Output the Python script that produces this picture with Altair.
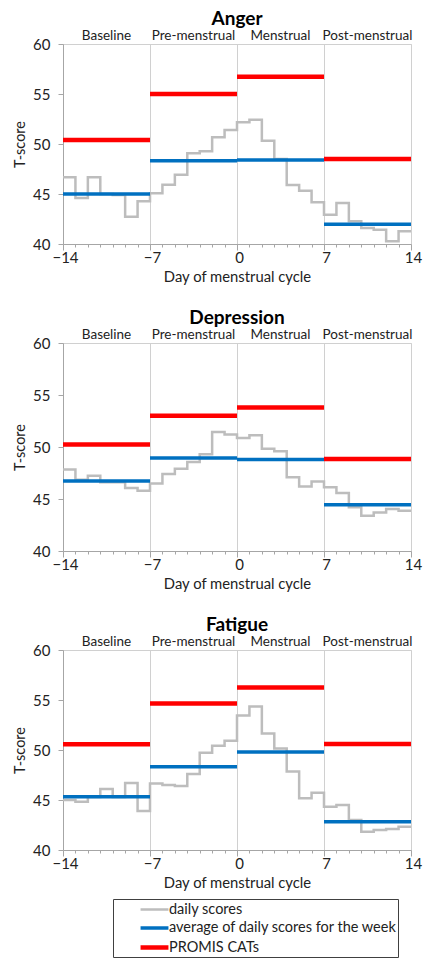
import altair as alt
import pandas as pd

days = list(range(-14, 14))
phases = ["Baseline", "Pre-menstrual", "Menstrual", "Post-menstrual"]
phase_start = [-14, -7, 0, 7]
phase_end = [-7, 0, 7, 14]

anger_daily = [46.67, 44.6, 46.67, 45.0, 44.9, 42.73, 44.27,
               45.07, 45.93, 46.93, 49.07, 49.27, 50.67, 51.4,
               52.17, 52.43, 50.33, 48.5, 45.9, 45.33, 44.17,
               42.93, 44.1, 42.27, 41.6, 41.43, 40.27, 41.27]
anger_weekly = [45.0, 48.33, 48.4, 41.97]
anger_promis = [50.4, 55.0, 56.73, 48.5]

depression_daily = [47.84, 46.84, 47.23, 46.6, 46.6, 46.06, 45.8,
                    46.5, 47.4, 47.9, 48.55, 49.3, 51.45, 51.2,
                    50.87, 51.13, 49.84, 49.58, 47.1, 46.2, 46.68,
                    46.13, 45.58, 44.2, 43.39, 43.7, 44.03, 43.87]
depression_weekly = [46.74, 48.94, 48.8, 44.45]
depression_promis = [50.23, 53.0, 53.8, 48.84]

fatigue_daily = [45.0, 44.83, 45.3, 46.1, 45.3, 46.7, 43.9,
                 46.65, 46.5, 46.4, 47.6, 49.73, 50.43, 50.93,
                 53.45, 54.35, 51.65, 50.15, 47.85, 45.17, 45.73,
                 44.33, 44.5, 43.0, 41.83, 42.0, 42.1, 42.33]
fatigue_weekly = [45.33, 48.33, 49.8, 42.83]
fatigue_promis = [50.57, 54.65, 56.25, 50.6]

series_names = ["daily scores", "average of daily scores for the week", "PROMIS CATs"]
series_colors = ["#bdbdbd", "#0070c0", "#ff0000"]
series_widths = [2.5, 4.5, 4.5]

FONT = "Lato"
AXIS_COLOR = "#a6a6a6"

x_scale = alt.Scale(domain=[-14, 14], nice=False, zero=False)
y_scale = alt.Scale(domain=[40, 60], nice=False, zero=False)

x_axis = alt.Axis(
    values=list(range(-14, 15)),
    labelExpr="datum.value % 7 === 0 ? datum.label : ''",
    tickSize={"condition": {"test": "datum.value % 7 === 0", "value": 6}, "value": 3},
    grid=True,
    gridOpacity={"condition": {"test": "datum.value % 7 === 0", "value": 1}, "value": 0},
    gridColor="#d0d0d0",
    domainColor=AXIS_COLOR,
    tickColor=AXIS_COLOR,
    labelFontSize=15,
    labelColor="#222222",
    labelOffset=2,
    labelPadding=0,
    labelFlush=False,
    labelOverlap=False,
    title="Day of menstrual cycle",
    titleFontSize=14.8,
    titleFontWeight="normal",
    titleColor="#222222",
    titlePadding=4,
)

y_axis = alt.Axis(
    values=[40, 45, 50, 55, 60],
    title="T-score",
    titleFontSize=14.5,
    titleFontWeight="normal",
    titleColor="#222222",
    titlePadding=5,
    labelFontSize=15,
    labelColor="#222222",
    labelPadding=8,
    tickSize=5,
    domainColor=AXIS_COLOR,
    tickColor=AXIS_COLOR,
    grid=False,
)

legend = alt.Legend(
    title=None,
    orient="none",
    legendX=50,
    legendY=855,
    direction="vertical",
    symbolType="M-1.55,0H1.55",
    symbolSize=324,
    symbolOffset=30,
    labelFontSize=14.5,
    labelFont=FONT,
    labelColor="#222222",
    labelOffset=3,
    labelLimit=400,
    labelExpr="datum.label + '\u00a0\u00a0\u00a0\u00a0\u00a0'",
    strokeColor="#404040",
    padding=0,
    rowPadding=1,
)

color_enc = alt.Color("series:N", scale=alt.Scale(domain=series_names, range=series_colors), legend=legend)
width_enc = alt.StrokeWidth("series:N", scale=alt.Scale(domain=series_names, range=series_widths), legend=legend)


def panel(name, daily, weekly, promis, height):
    line_df = pd.DataFrame({
        "day": days + [14],
        "score": daily + [daily[-1]],
        "series": series_names[0],
    })
    week_df = pd.DataFrame({"start": phase_start, "end": phase_end, "score": weekly, "series": series_names[1]})
    promis_df = pd.DataFrame({"start": phase_start, "end": phase_end, "score": promis, "series": series_names[2]})
    label_df = pd.DataFrame({"phase": phases, "mid": [(s + e) / 2 for s, e in zip(phase_start, phase_end)]})

    line = alt.Chart(line_df).mark_line(interpolate="step-after").encode(
        x=alt.X("day:Q", scale=x_scale, axis=x_axis),
        y=alt.Y("score:Q", scale=y_scale, axis=y_axis),
        color=color_enc,
        strokeWidth=width_enc,
    )
    week = alt.Chart(week_df).mark_rule().encode(
        x=alt.X("start:Q", scale=x_scale, axis=x_axis),
        x2="end:Q",
        y=alt.Y("score:Q", scale=y_scale, axis=y_axis),
        color=color_enc,
        strokeWidth=width_enc,
    )
    prom = alt.Chart(promis_df).mark_rule().encode(
        x=alt.X("start:Q", scale=x_scale, axis=x_axis),
        x2="end:Q",
        y=alt.Y("score:Q", scale=y_scale, axis=y_axis),
        color=color_enc,
        strokeWidth=width_enc,
    )
    labels = alt.Chart(label_df).mark_text(
        baseline="middle", align="center", fontSize=13.5, font=FONT, color="#222222"
    ).encode(
        x=alt.X("mid:Q", scale=x_scale, axis=x_axis),
        y=alt.value(-8),
        text="phase:N",
    )
    return alt.layer(line, week, prom, labels).properties(
        width=348,
        height=height,
        title=alt.TitleParams(
            text=name, fontSize=19, fontWeight="bold", font=FONT, color="#000000",
            anchor="middle", frame="group", offset=0,
        ),
    )


chart = alt.vconcat(
    panel("Anger", anger_daily, anger_weekly, anger_promis, 200),
    panel("Depression", depression_daily, depression_weekly, depression_promis, 208),
    panel("Fatigue", fatigue_daily, fatigue_weekly, fatigue_promis, 200),
    spacing=23,
).resolve_scale(
    color="shared", strokeWidth="shared"
).properties(
    padding={"left": 4, "right": 0, "top": 1, "bottom": 0}
).configure(
    font=FONT
).configure_view(
    stroke="#d0d0d0"
).configure_axis(
    labelFont=FONT, titleFont=FONT
)

chart.save("out.html", embed_options={"renderer": "svg", "actions": False})
